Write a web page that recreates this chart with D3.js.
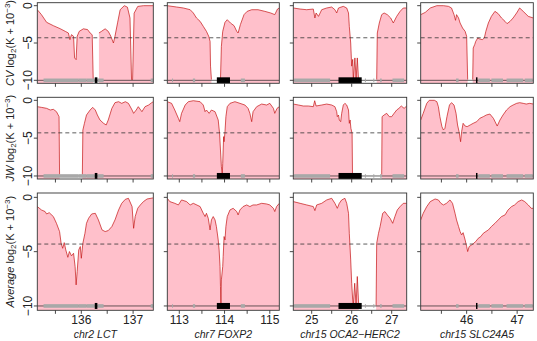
<!DOCTYPE html>
<html>
<head>
<meta charset="utf-8">
<script src="https://cdn.jsdelivr.net/npm/d3@7"></script>
<style>
  html, body { margin: 0; padding: 0; background: #fff; }
  svg { display: block; font-family: "Liberation Sans", Arial, Helvetica, sans-serif; }
</style>
</head>
<body>
<svg id="chart"></svg>
<script>
// ---- data ----
const regionNames = ['chr2 LCT', 'chr7 FOXP2', 'chr15 OCA2\u2212HERC2', 'chr15 SLC24A5'];
const statNames = ['CV', 'JW', 'Average'];
const regionRanges = [[135.15, 137.39], [112.735, 115.21], [24.54, 27.375], [45.09, 47.32]];
const regionTicks = [[135.5, 136, 136.5, 137], [113, 113.5, 114, 114.5, 115], [25, 25.5, 26, 26.5, 27], [45.5, 46, 46.5, 47]];
const regionTickLabels = [[136, 137], [113, 114, 115], [25, 26, 27], [46, 47]];
const yTicks = [0, -5, -10];
const yRange = [-10.4, 0.4];
const threshold = -4.3;
const geneLevel = -10;

// log2(K + 1e-3) by position (Mb); null = no value
const cvLCT = [[135.15,-0.54],[135.23,-1.2],[135.33,-2.23],[135.46,-2.68],[135.59,-3.08],[135.69,-3.44],[135.75,-3.66],[135.78,-4.55],[135.81,-3.88],[135.85,-4.1],[135.87,-7.0],[135.9,-7.23],[135.92,-4.1],[135.96,-3.44],[136.04,-3.1],[136.12,-3.2],[136.17,-3.66],[136.21,-3.9],[136.23,-9.9],[136.235,null],[136.32,null],[136.34,-3.66],[136.39,-3.44],[136.46,-3.1],[136.52,-3.44],[136.57,-4.1],[136.62,-5.0],[136.65,-4.1],[136.7,-2.3],[136.75,-0.54],[136.83,0],[136.89,-0.2],[136.94,-1.65],[136.97,-9.9],[136.99,-9.9],[137.02,-1.0],[137.09,-0.1],[137.2,0],[137.39,0]];
const cvFOXP2 = [[112.735,0],[112.94,-0.18],[113.09,-0.31],[113.24,-0.54],[113.31,-0.98],[113.38,-1.65],[113.46,-2.1],[113.53,-2.77],[113.6,-3.44],[113.65,-4.1],[113.68,-4.78],[113.69,-8.1],[113.71,-9.9],[113.72,null],[113.905,null],[113.91,-9.9],[113.93,-5.45],[113.96,-3.44],[114.01,-2.23],[114.06,-1.88],[114.13,-2.32],[114.21,-2.68],[114.27,-3.44],[114.3,-3.66],[114.35,-2.54],[114.43,-1.2],[114.5,-0.76],[114.6,-0.54],[114.74,-0.54],[114.89,-0.76],[115.02,-0.98],[115.11,-1.2],[115.17,-0.45],[115.21,-0.31]];
const cvOCA2 = [[24.54,-0.31],[24.71,-0.45],[24.875,-0.54],[25.04,-0.45],[25.08,-1.65],[25.11,-0.98],[25.17,-1.43],[25.25,-0.54],[25.375,-0.31],[25.5,-0.18],[25.58,-0.54],[25.625,-0.98],[25.67,-0.31],[25.79,-0.09],[25.875,-0.31],[25.92,-0.98],[25.94,-2.77],[25.975,-5.0],[26.0,-8.1],[26.025,-7.2],[26.04,-9.9],[26.08,-7.0],[26.11,-9.9],[26.14,-7.0],[26.17,-9.9],[26.19,null],[26.61,null],[26.625,-9.9],[26.64,-3.66],[26.69,-2.32],[26.75,-1.2],[26.81,-0.98],[26.89,-1.2],[26.975,-1.65],[27.04,-2.32],[27.125,-1.43],[27.21,-0.76],[27.29,-0.31],[27.375,-0.31]];
const cvSLC24A5 = [[45.09,-1.2],[45.18,-0.9],[45.28,-0.31],[45.41,0],[45.54,0],[45.64,-0.09],[45.7,-0.31],[45.75,-1.2],[45.78,-1.96],[45.8,-1.2],[45.84,-1.65],[45.87,-2.32],[45.92,-3.0],[45.97,-3.44],[46.0,-4.1],[46.02,-9.9],[46.03,null],[46.105,null],[46.12,-9.9],[46.13,-5.67],[46.16,-5.2],[46.18,-4.78],[46.22,-4.33],[46.26,-4.46],[46.31,-4.55],[46.35,-4.33],[46.38,-3.44],[46.43,-2.32],[46.49,-1.43],[46.56,-0.76],[46.625,-1.07],[46.69,-1.65],[46.76,-2.1],[46.8,-2.41],[46.86,-2.1],[46.92,-1.65],[46.99,-0.98],[47.05,-0.31],[47.12,-0.76],[47.22,-1.43],[47.32,-1.65]];

const jwLCT = [[135.15,-0.84],[135.23,-0.93],[135.33,-1.06],[135.4,-1.28],[135.46,-1.19],[135.52,-1.5],[135.57,-2.16],[135.58,-9.83],[135.6,null],[136.01,null],[136.02,-9.83],[136.03,-3.93],[136.06,-3.04],[136.1,-1.94],[136.17,-1.28],[136.22,-0.93],[136.27,-1.28],[136.31,-1.94],[136.36,-2.6],[136.43,-3.04],[136.48,-3.26],[136.52,-2.6],[136.59,-1.06],[136.65,-0.31],[136.72,-0.18],[136.78,-0.4],[136.85,-0.18],[136.91,-0.4],[136.98,-1.28],[137.01,-1.72],[137.06,-1.28],[137.1,-0.84],[137.17,-1.5],[137.23,-0.84],[137.3,-0.62],[137.36,-0.31],[137.39,-0.18]];
const jwFOXP2 = [[112.735,-0.18],[112.83,-0.4],[112.9,-1.28],[112.98,-2.38],[113.01,-2.82],[113.05,-1.72],[113.13,-0.62],[113.2,-0.18],[113.31,-0.05],[113.46,-0.18],[113.53,-0.62],[113.57,-1.5],[113.6,-1.28],[113.66,-1.72],[113.71,-1.28],[113.79,-1.5],[113.86,-2.6],[113.89,-4.37],[113.91,-6.57],[113.93,-8.77],[113.95,-9.83],[113.96,-8.33],[113.98,-4.8],[113.99,-5.47],[114.01,-4.15],[114.03,-2.16],[114.06,-0.84],[114.12,-0.4],[114.23,-0.18],[114.34,-0.4],[114.45,-0.62],[114.52,-1.06],[114.56,-1.72],[114.6,-2.82],[114.63,-1.5],[114.71,-0.84],[114.82,-0.49],[114.93,-0.62],[115.0,-0.4],[115.08,-1.06],[115.11,-1.72],[115.16,-1.06],[115.21,-0.84]];
const jwOCA2 = [[24.54,-0.49],[24.67,-0.62],[24.79,-0.75],[24.92,-0.75],[25.04,-0.84],[25.075,-0.05],[25.11,-0.75],[25.25,-0.62],[25.375,-0.49],[25.5,-0.62],[25.58,-0.84],[25.625,-1.5],[25.64,-2.16],[25.67,-1.94],[25.69,-2.6],[25.725,-2.82],[25.75,-1.72],[25.79,-0.62],[25.83,-0.4],[25.875,-0.62],[25.92,-1.28],[25.94,-3.04],[25.96,-2.6],[25.98,-3.7],[26.01,-4.37],[26.02,-9.83],[26.025,null],[26.73,null],[26.75,-9.83],[26.76,-2.16],[26.81,-1.94],[26.875,-1.72],[26.94,-2.16],[27.0,-2.16],[27.06,-1.72],[27.125,-1.28],[27.18,-1.06],[27.24,-0.75],[27.31,-1.06],[27.375,-0.75]];
const jwSLC24A5 = [[45.09,-2.6],[45.14,-1.72],[45.21,-0.4],[45.26,0],[45.36,0],[45.41,-0.18],[45.44,-0.84],[45.47,-2.16],[45.51,-3.48],[45.54,-3.92],[45.57,-3.7],[45.61,-2.16],[45.66,-0.62],[45.7,-0.31],[45.75,-0.62],[45.79,-1.72],[45.82,-3.26],[45.85,-4.15],[45.88,-5.47],[45.9,-4.15],[45.93,-3.04],[45.97,-3.4],[46.01,-3.48],[46.07,-3.26],[46.13,-3.04],[46.2,-2.82],[46.26,-2.38],[46.33,-2.16],[46.39,-1.94],[46.46,-1.81],[46.53,-2.38],[46.605,-3.4],[46.66,-2.6],[46.72,-1.94],[46.79,-1.28],[46.86,-0.84],[46.92,-0.62],[46.99,-0.4],[47.05,-0.31],[47.12,-0.4],[47.18,-0.49],[47.25,-0.4],[47.32,-0.49]];

const avgLCT = [[135.15,-0.85],[135.23,-1.16],[135.3,-1.31],[135.33,-1.53],[135.38,-1.41],[135.46,-1.77],[135.52,-2.39],[135.58,-3.15],[135.61,-4.23],[135.64,-4.69],[135.67,-4.17],[135.7,-4.84],[135.74,-5.52],[135.77,-4.99],[135.81,-5.39],[135.85,-5.15],[135.88,-6.37],[135.9,-8.06],[135.92,-6.83],[135.95,-4.84],[135.98,-4.53],[136.0,-5.61],[136.03,-4.23],[136.07,-3.31],[136.1,-2.39],[136.14,-1.93],[136.2,-1.53],[136.27,-1.47],[136.33,-2.08],[136.4,-3.0],[136.46,-3.15],[136.52,-3.06],[136.59,-2.69],[136.65,-2.08],[136.72,-1.16],[136.78,-0.55],[136.85,-0.18],[136.91,-0.09],[136.98,-0.85],[137.01,-2.85],[137.04,-1.77],[137.09,-1.0],[137.14,-0.7],[137.2,-0.39],[137.27,-0.15],[137.39,-0.05]];
const avgFOXP2 = [[112.735,-0.09],[112.79,-0.39],[112.9,-0.55],[112.98,-0.7],[113.05,-0.24],[113.16,-0.39],[113.24,-0.7],[113.31,-0.55],[113.46,-0.85],[113.53,-1.47],[113.57,-1.77],[113.6,-1.47],[113.64,-1.93],[113.68,-3.0],[113.71,-2.08],[113.75,-1.77],[113.79,-2.08],[113.82,-2.69],[113.86,-3.92],[113.88,-4.84],[113.9,-6.37],[113.91,-8.21],[113.92,-9.95],[113.93,-7.6],[113.96,-6.37],[113.97,-5.45],[113.99,-3.61],[114.01,-3.92],[114.03,-2.69],[114.06,-1.77],[114.12,-1.16],[114.19,-1.01],[114.27,-1.31],[114.3,-1.62],[114.34,-1.16],[114.41,-0.85],[114.49,-0.7],[114.56,-0.85],[114.63,-0.7],[114.71,-0.7],[114.82,-0.55],[114.93,-0.61],[115.0,-0.7],[115.08,-1.01],[115.11,-1.31],[115.15,-0.85],[115.21,-0.55]];
const avgOCA2 = [[24.54,-0.39],[24.71,-0.55],[24.875,-0.7],[25.04,-0.85],[25.08,-1.22],[25.125,-0.7],[25.25,-0.55],[25.375,-0.24],[25.5,-0.09],[25.58,-0.55],[25.64,-1.01],[25.69,-0.55],[25.75,-0.24],[25.83,-0.09],[25.875,-0.55],[25.92,-1.47],[25.94,-3.31],[25.975,-5.76],[26.0,-7.91],[26.025,-9.44],[26.04,-9.95],[26.075,-7.91],[26.11,-9.95],[26.14,-7.29],[26.175,-9.95],[26.19,null],[26.59,null],[26.61,-9.95],[26.625,-4.23],[26.67,-3.31],[26.71,-2.69],[26.775,-1.47],[26.83,-1.31],[26.89,-1.62],[26.96,-1.93],[27.025,-2.39],[27.08,-1.77],[27.14,-1.16],[27.21,-0.85],[27.29,-0.55],[27.375,-0.55]];
const avgSLC24A5 = [[45.09,-2.08],[45.14,-1.47],[45.21,-0.85],[45.28,-0.39],[45.375,-0.15],[45.44,-0.24],[45.49,-0.55],[45.54,-0.7],[45.6,-0.55],[45.67,-0.24],[45.72,-0.55],[45.77,-1.47],[45.8,-2.08],[45.84,-2.69],[45.87,-3.15],[45.9,-3.46],[45.93,-3.25],[45.97,-3.92],[46.0,-4.53],[46.02,-4.99],[46.05,-4.53],[46.1,-4.38],[46.14,-4.23],[46.18,-4.07],[46.23,-3.77],[46.28,-3.61],[46.33,-3.31],[46.38,-3.15],[46.43,-3.0],[46.49,-2.69],[46.56,-2.39],[46.625,-2.08],[46.69,-1.77],[46.76,-1.62],[46.82,-1.16],[46.89,-0.85],[46.95,-0.7],[47.02,-0.39],[47.09,-0.24],[47.15,-0.39],[47.22,-0.7],[47.28,-1.01],[47.32,-1.01]];

// genes (start, end in Mb); focal gene drawn black
const genesLCT = [[135.27, 135.95], [135.95, 136.1], [136.1, 136.26], [136.31, 136.43], [137.34, 137.39]];
const genesFOXP2 = [[112.84, 112.86], [113.3, 113.35], [114.36, 114.45]];
const genesOCA2 = [[24.56, 25.46], [26.33, 26.335], [26.54, 26.545], [26.71, 26.75], [27.02, 27.31]];
const genesSLC24A5 = [[45.79, 45.84], [46.23, 46.46], [46.49, 46.72], [46.79, 47.12], [47.15, 47.31]];
const focalGenes = [[136.26, 136.31], [113.83, 114.12], [25.67, 26.25], [46.185, 46.21]];

const series = [
  [cvLCT, cvFOXP2, cvOCA2, cvSLC24A5],
  [jwLCT, jwFOXP2, jwOCA2, jwSLC24A5],
  [avgLCT, avgFOXP2, avgOCA2, avgSLC24A5]
];
const genes = [genesLCT, genesFOXP2, genesOCA2, genesSLC24A5];

// ---- layout ----
const width = 537, height = 341;
const colX = [[37.3, 153.3], [167.3, 279.3], [293.3, 406.7], [420.7, 533.3]];
const rowY = [[2.7, 83.3], [97.3, 179], [193, 310.3]];
const tick = 3.5;
const axisColor = '#333';

const svg = d3.select('#chart')
  .attr('width', width)
  .attr('height', height)
  .attr('viewBox', `0 0 ${width} ${height}`);

const fmt = d => d < 0 ? '\u2212' + Math.abs(d) : String(d);

rowY.forEach(([top, bottom], r) => {
  const y = d3.scaleLinear().domain(yRange).range([bottom, top]);

  // y-axis title (first column only)
  const lab = svg.append('text')
    .attr('transform', `translate(10, ${(top + bottom) / 2}) rotate(-90)`)
    .attr('text-anchor', 'middle')
    .attr('dy', '0.35em')
    .attr('font-size', '11px')
    .attr('fill', '#222');
  lab.append('tspan').attr('font-style', 'italic').text(statNames[r]);
  lab.append('tspan').text(' log');
  lab.append('tspan').attr('font-size', '8px').attr('dy', '2.5').text('2');
  lab.append('tspan').attr('dy', '-2.5').text('(K + 10');
  lab.append('tspan').attr('font-size', '8px').attr('dy', '-4').text('\u22123');
  lab.append('tspan').attr('dy', '4').text(')');

  yTicks.forEach(t => {
    svg.append('text')
      .attr('transform', `translate(28, ${y(t)}) rotate(-90)`)
      .attr('text-anchor', 'middle')
      .attr('dy', '0.35em')
      .attr('font-size', '12px')
      .attr('fill', '#222')
      .text(fmt(t));
  });

  colX.forEach(([left, right], c) => {
    const x = d3.scaleLinear().domain(regionRanges[c]).range([left, right]);
    const data = series[r][c];
    const g = svg.append('g');

    const clipId = `clip-${r}-${c}`;
    g.append('clipPath').attr('id', clipId)
      .append('rect')
      .attr('x', left).attr('y', top)
      .attr('width', right - left).attr('height', bottom - top);

    const plot = g.append('g').attr('clip-path', `url(#${clipId})`);

    const area = d3.area()
      .defined(d => d[1] !== null)
      .x(d => x(d[0]))
      .y0(y(yRange[0]))
      .y1(d => y(d[1]));

    const line = d3.line()
      .defined(d => d[1] !== null)
      .x(d => x(d[0]))
      .y(d => y(d[1]));

    plot.append('path')
      .attr('d', area(data))
      .attr('fill', '#ffc0cb');

    plot.append('path')
      .attr('d', line(data))
      .attr('fill', 'none')
      .attr('stroke', '#c41414')
      .attr('stroke-width', 0.7);

    // threshold
    plot.append('line')
      .attr('x1', left).attr('x2', right)
      .attr('y1', y(threshold)).attr('y2', y(threshold))
      .attr('stroke', '#333')
      .attr('stroke-width', 0.8)
      .attr('stroke-dasharray', '4,3');

    // gene track
    plot.append('line')
      .attr('x1', left).attr('x2', right)
      .attr('y1', y(geneLevel)).attr('y2', y(geneLevel))
      .attr('stroke', '#222')
      .attr('stroke-width', 0.7);

    plot.selectAll('rect.gene')
      .data(genes[c])
      .join('rect')
      .attr('class', 'gene')
      .attr('x', d => x(d[0]))
      .attr('width', d => Math.max(1, x(d[1]) - x(d[0])))
      .attr('y', y(geneLevel) - 1.8)
      .attr('height', 3.6)
      .attr('fill', '#a8a8a8');

    const fg = focalGenes[c];
    plot.append('rect')
      .attr('x', x(fg[0]))
      .attr('width', Math.max(1.5, x(fg[1]) - x(fg[0])))
      .attr('y', y(geneLevel) - 3)
      .attr('height', 6)
      .attr('fill', '#000');

    // box
    g.append('rect')
      .attr('x', left).attr('y', top)
      .attr('width', right - left).attr('height', bottom - top)
      .attr('fill', 'none')
      .attr('stroke', axisColor)
      .attr('stroke-width', 0.9);

    // y ticks
    yTicks.forEach(t => {
      g.append('line')
        .attr('x1', left - tick).attr('x2', left)
        .attr('y1', y(t)).attr('y2', y(t))
        .attr('stroke', axisColor).attr('stroke-width', 0.9);
    });

    // x ticks
    regionTicks[c].forEach(t => {
      g.append('line')
        .attr('x1', x(t)).attr('x2', x(t))
        .attr('y1', bottom).attr('y2', bottom + tick)
        .attr('stroke', axisColor).attr('stroke-width', 0.9);
    });

    if (r === rowY.length - 1) {
      regionTickLabels[c].forEach(t => {
        g.append('text')
          .attr('x', x(t)).attr('y', 324)
          .attr('text-anchor', 'middle')
          .attr('font-size', '12px')
          .attr('fill', '#222')
          .text(t);
      });
      g.append('text')
        .attr('x', (left + right) / 2).attr('y', 337.5)
        .attr('text-anchor', 'middle')
        .attr('font-size', '10.5px')
        .attr('font-style', 'italic')
        .attr('fill', '#222')
        .text(regionNames[c]);
    }
  });
});
</script>
</body>
</html>
